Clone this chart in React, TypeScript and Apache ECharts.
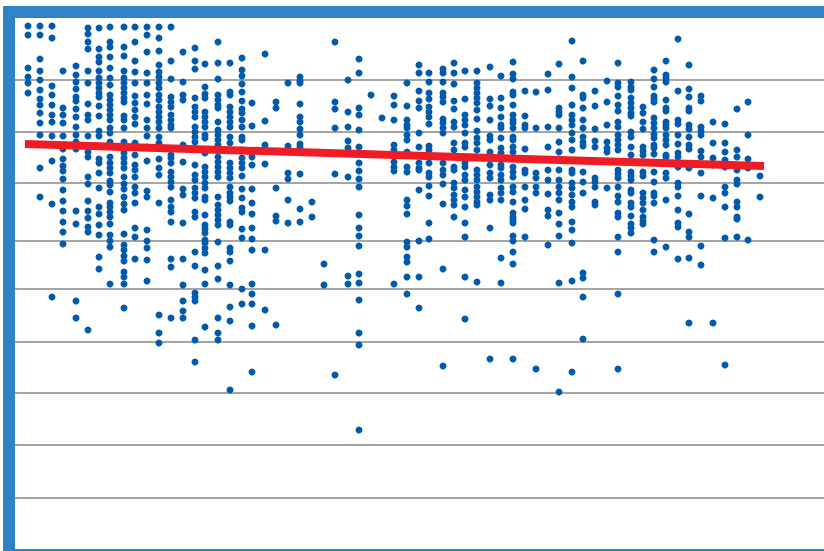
import React, { useEffect, useRef } from "react";
import * as echarts from "echarts";

const columnX = [28,40,52,63,76,88,99,110,124,135,147,159,171,183,195,205,218,230,242,252,265,276,288,300,312,324,335,348,359,371,382,394,407,419,429,443,454,465,477,490,501,513,525,536,548,559,572,583,595,607,618,631,643,654,666,678,689,701,713,725,737,748,760];

const columnY: number[][] = [
  [26,35,68,77,83,93],
  [26,35,59,71,80,90,99,105,113,123,135,168,197],
  [26,38,86,95,105,115,122,136,161,204,297],
  [71,108,115,123,136,149,159,166,171,179,190,201,211,222,232,244],
  [66,75,82,89,97,101,109,117,127,135,142,149,211,224,301,318],
  [28,34,42,49,71,83,104,115,120,136,152,157,177,184,201,211,218,227,232,330],
  [28,49,57,62,71,78,83,88,93,97,106,116,131,136,159,163,173,188,207,214,225,235,257,269],
  [27,42,47,57,68,78,85,95,100,105,110,115,120,128,133,142,157,163,168,173,181,185,192,203,207,212,217,224,235,241,247,284],
  [27,47,56,71,78,83,88,93,98,102,116,120,128,142,153,158,163,168,177,184,189,197,204,210,234,245,250,256,261,272,277,284,308],
  [27,42,61,72,83,96,103,110,117,124,143,155,165,170,177,187,193,203,228,237,259],
  [27,35,52,73,83,95,104,120,128,136,147,161,191,197,230,241,248,260,281],
  [27,38,51,65,72,77,83,88,95,100,107,112,117,122,128,137,143,159,168,175,203,315,333,343],
  [27,61,79,97,102,107,115,120,125,128,155,158,163,172,177,182,187,200,207,212,222,259,267,318],
  [52,82,95,100,145,162,189,195,223,259,285,301,311,318],
  [48,61,69,98,107,112,117,127,132,137,142,165,175,180,188,193,198,212,217,252,266,293,297,301,340,362],
  [64,87,94,98,112,117,122,127,135,138,153,167,172,177,183,188,197,200,215,225,229,233,240,243,248,253,270,284,327],
  [42,63,79,95,100,105,108,122,130,135,140,145,157,162,167,172,177,197,205,210,215,220,225,242,266,279,318,333,340],
  [63,92,95,107,112,117,122,127,137,143,163,168,173,178,187,193,197,201,222,225,248,252,261,285,307,321,390],
  [58,70,76,84,92,101,109,113,120,127,137,140,150,158,163,168,176,189,198,208,212,229,238,289,304],
  [103,126,157,165,189,203,214,228,239,250,284,294,304,326,372],
  [54,121,145,164,250,310],
  [102,108,188,216,221,325],
  [83,146,173,179,200,223],
  [77,81,83,104,117,122,129,135,144,147,174,209,222],
  [202,217],
  [264,285],
  [42,102,109,128,174,375],
  [80,112,127,141,148,177,276,284],
  [59,73,108,115,130,147,163,171,179,187,215,228,236,246,274,283,300,333,345,430],
  [95],
  [118],
  [96,105,120,145,150,162,167,171,284],
  [83,106,120,125,128,135,140,152,167,172,200,206,214,242,247,257,262,277,294],
  [65,73,91,101,108,133,147,163,168,170,190,241,277,308],
  [73,82,93,99,107,112,117,124,146,150,163,173,177,186,196,223,239],
  [69,73,82,93,97,102,119,123,128,133,163,170,175,184,204,269,366],
  [63,73,84,101,109,122,127,143,150,167,170,183,188,195,200,205,217],
  [71,99,115,120,125,133,143,147,163,167,175,180,190,197,207,223,237,277,319],
  [71,83,88,93,98,103,110,119,131,138,143,150,170,175,180,187,192,197,202,205,282],
  [67,99,106,120,136,140,152,165,173,178,195,200,228,359],
  [76,98,108,117,125,128,138,148,153,165,168,175,180,188,193,200,258,283],
  [62,74,79,92,95,105,115,120,123,128,137,140,147,152,167,172,177,187,192,202,213,217,220,223,236,241,252,264,359],
  [91,116,125,128,149,170,173,187,200,209,237],
  [92,128,173,178,187,193,369],
  [74,90,127,147,170,180,194,210,216,245],
  [64,108,112,115,128,142,152,170,180,187,193,200,213,224,236,283,392],
  [41,77,88,105,115,120,125,133,140,150,170,173,183,188,195,202,207,222,230,243,281,372],
  [61,95,98,108,120,128,137,142,146,172,182,193,273,278,297,339],
  [91,106,129,141,147,178,182,187,202,205],
  [81,102,125,142,148,152,188],
  [63,83,87,96,105,111,122,127,135,140,145,150,170,174,178,187,196,202,213,217,237,252,294,369],
  [82,87,90,98,103,108,113,116,132,137,147,155,172,176,180,190,193,203,207,216,224,228,233],
  [107,113,122,129,147,151,155,172,176,193,198,203,210,217,221,224],
  [70,79,87,96,99,102,118,123,128,134,138,145,148,154,172,182,193,196,203,240,252],
  [61,75,78,82,100,108,111,122,125,128,135,140,145,155,157,173,178,200,247],
  [39,91,120,124,135,144,153,157,167,183,187,196,210,223,227,259],
  [65,89,97,108,111,125,129,137,145,149,168,214,232,237,258,323],
  [96,101,127,131,135,151,157,173,196,246,265],
  [122,143,158,165,198,323],
  [124,143,152,160,167,187,193,207,238,365],
  [109,150,157,170,180,184,202,207,217,219,237],
  [102,135,159,168,240],
  [176,197],
];

const gridLevels = [80, 132, 183, 240.5, 288.5, 342, 392.5, 445, 497.5];
const trendStart = [25, 144];
const trendEnd = [764, 166];

const points = columnX.flatMap((x, i) => columnY[i].map((y) => [x, y]));

export default function App() {
  const ref = useRef<HTMLDivElement>(null);
  useEffect(() => {
    document.body.style.margin = "0";
    const chart = echarts.init(ref.current!, null, { renderer: "svg" });
    chart.setOption({
      animation: false,
      backgroundColor: "#ffffff",
      grid: { left: 0, top: 0, width: 824, height: 551 },
      xAxis: { type: "value", min: 0, max: 824, show: false },
      yAxis: { type: "value", min: 0, max: 551, inverse: true, show: false },
      series: [
        {
          type: "scatter",
          data: points,
          symbol: "circle",
          symbolSize: 7,
          itemStyle: { color: "#005bac", opacity: 1 },
          z: 3,
          silent: true,
          markLine: {
            silent: true,
            symbol: "none",
            label: { show: false },
            lineStyle: { color: "#a5a5a8", width: 2, type: "solid" },
            z: 2,
            data: gridLevels.map((g) => [
              { coord: [15, g] },
              { coord: [824, g] },
            ]),
          },
        },
        {
          type: "line",
          data: [trendStart, trendEnd],
          symbol: "none",
          lineStyle: { color: "#ee1c25", width: 8, cap: "butt" },
          z: 4,
          silent: true,
        },
      ],
      graphic: [
        { type: "rect", shape: { x: 3, y: 6, width: 12, height: 545 }, style: { fill: "#3082c6" }, z: 10 },
        { type: "rect", shape: { x: 3, y: 6, width: 821, height: 12 }, style: { fill: "#3082c6" }, z: 10 },
        { type: "rect", shape: { x: 3, y: 549, width: 821, height: 2 }, style: { fill: "#3082c6" }, z: 10 },
      ],
    });
    return () => chart.dispose();
  }, []);
  return <div ref={ref} style={{ position: "absolute", left: 0, top: 0, width: 824, height: 551 }} />;
}
